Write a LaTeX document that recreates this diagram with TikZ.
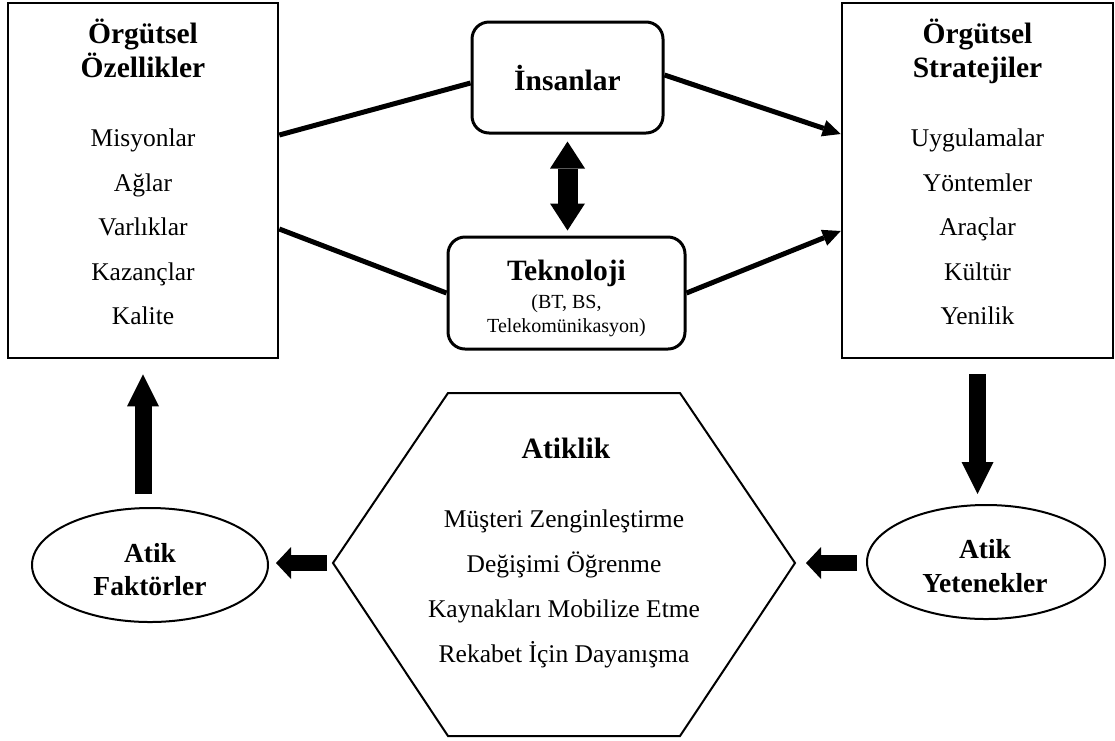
\documentclass[tikz,border=0pt]{standalone}
\usepackage{fontspec}
\setmainfont{Liberation Serif}
\usetikzlibrary{arrows.meta,shapes.geometric,calc}
\begin{document}
\begin{tikzpicture}[x=1pt,y=-1pt,
  sqbox/.style={draw, line width=2.6pt, inner sep=0pt},
  rbox/.style={draw, line width=3pt, rounded corners=17pt, inner sep=0pt},
  ellbox/.style={draw, ellipse, line width=2pt, inner sep=0pt},
  hexline/.style={line width=2pt, line join=miter},
  txt/.style={inner sep=0pt, anchor=base},
  ttl/.style={txt, font=\bfseries\fontsize{29.5}{34}\selectfont},
  ettl/.style={txt, font=\bfseries\fontsize{27.5}{32}\selectfont},
  itm/.style={txt, font=\fontsize{25.5}{30}\selectfont},
  sml/.style={txt, font=\fontsize{20}{24}\selectfont},
  thinarrow/.style={line width=5pt},
  thinhead/.style={-{Triangle[length=18pt,width=17pt,line width=0pt]}},
  bigarrow/.style={line width=17pt, -{Triangle[length=32pt,width=32pt,line width=0pt]}},
  smallarrow/.style={line width=16pt, -{Triangle[length=15pt,width=32pt,line width=0pt]}},
  dblarrow/.style={line width=20pt, {Triangle[length=27pt,width=35pt,line width=0pt]}-{Triangle[length=27pt,width=35pt,line width=0pt]}}
]
\useasboundingbox (0,0) rectangle (1115,740);

% boxes
\node[sqbox, minimum width=270pt, minimum height=355pt] (L) at (143,180.5) {};
\node[sqbox, minimum width=271pt, minimum height=355pt] (R) at (977.5,180.5) {};
\node[rbox, minimum width=191pt, minimum height=111pt] (I) at (567.5,77.5) {};
\node[rbox, minimum width=237pt, minimum height=112pt] (T) at (566.5,293) {};
\node[ellbox, minimum width=236pt, minimum height=114pt] (FA) at (150,565) {};
\node[ellbox, minimum width=238pt, minimum height=114pt] (YE) at (986,562) {};

% hexagon
\coordinate (hL) at (333,563);
\coordinate (hR) at (795,563);
\coordinate (hTL) at (448,393);
\coordinate (hTR) at (680,393);
\coordinate (hBR) at (680,736);
\coordinate (hBL) at (448,736);
\draw[hexline] (hL) -- (hTL) -- (hTR) -- (hR) -- (hBR) -- (hBL) -- cycle;

% left box text
\node[ttl] (l1) at (143,43) {Örgütsel};
\node[ttl] (l2) at (143,77) {Özellikler};
\node[itm] (l3) at (143,146) {Misyonlar};
\node[itm] (l4) at (143,191) {Ağlar};
\node[itm] (l5) at (143,235) {Varlıklar};
\node[itm] (l6) at (143,280) {Kazançlar};
\node[itm] (l7) at (143,324) {Kalite};

% right box text
\node[ttl] (r1) at (977.5,43) {Örgütsel};
\node[ttl] (r2) at (977.5,77) {Stratejiler};
\node[itm] (r3) at (977.5,146) {Uygulamalar};
\node[itm] (r4) at (977.5,191) {Yöntemler};
\node[itm] (r5) at (977.5,235) {Araçlar};
\node[itm] (r6) at (977.5,280) {Kültür};
\node[itm] (r7) at (977.5,324) {Yenilik};

% center boxes text
\node[ttl] (i1) at (567.5,90) {İnsanlar};
\node[ttl] (t1) at (566.5,280) {Teknoloji};
\node[sml] (t2) at (566.5,308) {(BT, BS,};
\node[sml] (t3) at (566.5,332) {Telekomünikasyon)};

% hexagon text
\node[ttl] (h1) at (566,458) {Atiklik};
\node[itm] (h2) at (564,527) {Müşteri Zenginleştirme};
\node[itm] (h3) at (564,572) {Değişimi Öğrenme};
\node[itm] (h4) at (564,617) {Kaynakları Mobilize Etme};
\node[itm] (h5) at (564,662) {Rekabet İçin Dayanışma};

% ellipse text
\node[ettl] (f1) at (150,562) {Atik};
\node[ettl] (f2) at (150,595) {Faktörler};
\node[ettl] (y1) at (985,558) {Atik};
\node[ettl] (y2) at (985,592) {Yetenekler};

% connectors
\draw[thinarrow] (L.east |- 0,135) -- (I.west |- 0,83);
\draw[thinarrow] (L.east |- 0,229) -- (T.west);
\draw[thinarrow, thinhead] (I.east |- 0,75) -- (R.west |- 0,134);
\draw[thinarrow, thinhead] (T.east) -- (R.west |- 0,231);

\draw[dblarrow, shorten <=7pt, shorten >=5pt] (I.south) -- (I.south |- T.north);
\draw[bigarrow, shorten <=13pt, shorten >=15pt] (L.south |- FA.north) -- (L.south);
\draw[bigarrow, shorten <=15pt, shorten >=10pt] (R.south) -- (R.south |- YE.north);
\draw[smallarrow, shorten <=6pt, shorten >=7pt] (hL) -- (FA.east |- hL);
\draw[smallarrow, shorten <=9pt, shorten >=11pt] (YE.west |- hR) -- (hR);
\end{tikzpicture}
\end{document}
